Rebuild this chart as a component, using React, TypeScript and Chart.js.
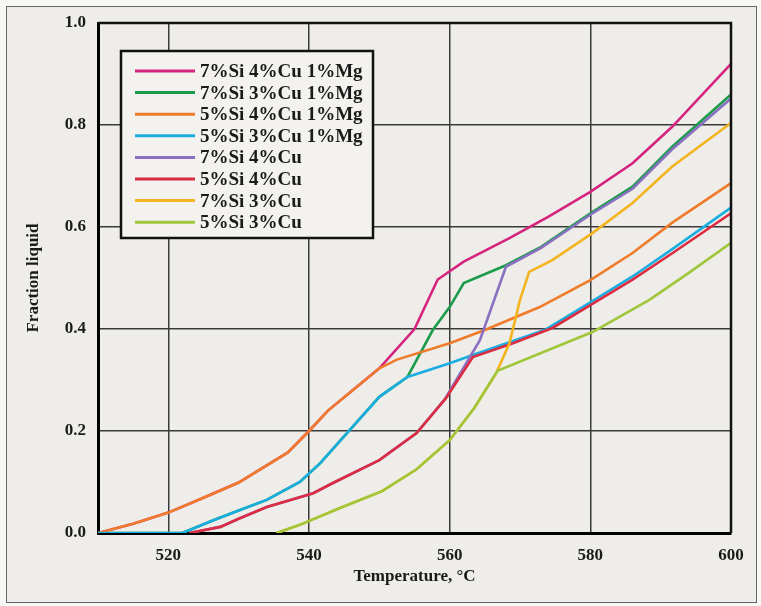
import React, { useEffect, useRef } from 'react';
import { Chart, registerables } from 'chart.js';

Chart.register(...registerables);

// ---- Data ----
const seriesLabels = [
  '7%Si 4%Cu 1%Mg',
  '7%Si 3%Cu 1%Mg',
  '5%Si 4%Cu 1%Mg',
  '5%Si 3%Cu 1%Mg',
  '7%Si 4%Cu',
  '5%Si 4%Cu',
  '7%Si 3%Cu',
  '5%Si 3%Cu',
];
const seriesColors = ['#d5247f', '#1c9c4a', '#f07b2a', '#1aaee0', '#8a70c0', '#dc2c42', '#f4b41f', '#a0c73a'];

const xTickValues = [520, 540, 560, 580, 600];
const yTickValues = [0, 0.2, 0.4, 0.6, 0.8, 1.0];

const t74Mg = [510, 515, 520, 525, 530, 537, 540, 542.7, 550, 555, 558.3, 562, 568.5, 574, 580, 586, 591.6, 600];
const f74Mg = [0, 0.018, 0.04, 0.069, 0.099, 0.158, 0.2, 0.24, 0.323, 0.4, 0.497, 0.532, 0.578, 0.62, 0.669, 0.725, 0.796, 0.92];

const t73Mg = [510, 522, 526.4, 530, 534, 538.7, 541.6, 545.4, 550, 554, 557.6, 560, 562, 568, 573, 580, 586, 591.6, 600];
const f73Mg = [0, 0, 0.025, 0.044, 0.065, 0.1, 0.137, 0.196, 0.267, 0.306, 0.398, 0.443, 0.49, 0.525, 0.561, 0.627, 0.679, 0.757, 0.86];

const t54Mg = [510, 515, 520, 525, 530, 537, 540, 542.7, 550, 552.5, 560, 565, 572.8, 580, 586, 591.6, 600];
const f54Mg = [0, 0.018, 0.04, 0.069, 0.099, 0.158, 0.2, 0.24, 0.323, 0.34, 0.372, 0.398, 0.443, 0.496, 0.549, 0.608, 0.686];

const t53Mg = [510, 522, 526.4, 530, 534, 538.7, 541.6, 545.4, 550, 554, 560, 563.3, 573.5, 580, 586, 591.6, 600];
const f53Mg = [0, 0, 0.025, 0.044, 0.065, 0.1, 0.137, 0.196, 0.267, 0.306, 0.333, 0.349, 0.398, 0.452, 0.503, 0.556, 0.638];

const t74 = [523, 527.4, 530, 534, 540.6, 543.4, 550, 555.3, 559.3, 560.5, 564.3, 568, 573, 580, 586, 591.6, 600];
const f74 = [0, 0.012, 0.028, 0.051, 0.078, 0.098, 0.143, 0.196, 0.262, 0.29, 0.378, 0.522, 0.559, 0.624, 0.675, 0.752, 0.852];

const t54 = [523, 527.4, 530, 534, 540.6, 543.4, 550, 555.3, 559.5, 563.3, 569, 574.6, 580, 586, 591.6, 600];
const f54 = [0, 0.012, 0.028, 0.051, 0.078, 0.098, 0.143, 0.196, 0.265, 0.345, 0.372, 0.402, 0.447, 0.497, 0.548, 0.627];

const t73 = [535.4, 538.7, 544.4, 550.4, 555.3, 560, 563.5, 566.6, 568.5, 570, 571.3, 574.6, 580.3, 586, 591.6, 600];
const f73 = [0, 0.016, 0.049, 0.082, 0.125, 0.182, 0.245, 0.313, 0.372, 0.457, 0.512, 0.535, 0.588, 0.647, 0.718, 0.804];

const t53 = [535.4, 538.7, 544.4, 550.4, 555.3, 560, 563.5, 566.8, 580.3, 588.4, 594, 600];
const f53 = [0, 0.016, 0.049, 0.082, 0.125, 0.182, 0.245, 0.318, 0.394, 0.457, 0.51, 0.569];

const seriesTemps = [t74Mg, t73Mg, t54Mg, t53Mg, t74, t54, t73, t53];
const seriesFractions = [f74Mg, f73Mg, f54Mg, f53Mg, f74, f54, f73, f53];

const FONT = '"Liberation Serif", "Times New Roman", serif';

const framePlugin = {
  id: 'frameAndLegend',
  afterDatasetsDraw(chart: any) {
    const { ctx, chartArea } = chart;
    ctx.save();
    // top and right frame
    ctx.strokeStyle = '#111';
    ctx.lineWidth = 2.5;
    ctx.beginPath();
    ctx.moveTo(chartArea.left, chartArea.top);
    ctx.lineTo(chartArea.right, chartArea.top);
    ctx.lineTo(chartArea.right, chartArea.bottom);
    ctx.stroke();

    // boxed legend
    const x0 = chartArea.left + 23;
    const y0 = chartArea.top + 28;
    const w = 252;
    const h = 187;
    ctx.fillStyle = '#f3f2ef';
    ctx.fillRect(x0, y0, w, h);
    ctx.lineWidth = 2.5;
    ctx.strokeStyle = '#111';
    ctx.strokeRect(x0, y0, w, h);
    ctx.font = 'bold 19px ' + FONT;
    ctx.textBaseline = 'middle';
    ctx.textAlign = 'left';
    chart.data.datasets.forEach((ds: any, i: number) => {
      const y = y0 + 20 + i * 21.6;
      ctx.strokeStyle = ds.borderColor;
      ctx.lineWidth = 3;
      ctx.beginPath();
      ctx.moveTo(x0 + 14, y);
      ctx.lineTo(x0 + 74, y);
      ctx.stroke();
      ctx.fillStyle = '#1a1a1a';
      ctx.fillText(ds.label, x0 + 79, y + 1);
    });
    ctx.restore();
  },
};

export default function App() {
  const ref = useRef<HTMLCanvasElement>(null);

  useEffect(() => {
    document.body.style.margin = '0';
    const canvas = ref.current;
    if (!canvas) return;
    const n = seriesLabels.length;
    const chart = new Chart(canvas, {
      type: 'line',
      data: {
        datasets: seriesLabels.map((label, i) => ({
          label,
          data: seriesTemps[i].map((x, j) => ({ x, y: seriesFractions[i][j] })),
          borderColor: seriesColors[i],
          backgroundColor: seriesColors[i],
          borderWidth: 2.6,
          pointRadius: 0,
          tension: 0,
          fill: false,
          order: n - 1 - i,
        })),
      },
      options: {
        responsive: false,
        devicePixelRatio: 1,
        animation: false,
        layout: { padding: { left: 0, right: 30, top: 23, bottom: 0 } },
        plugins: {
          legend: { display: false },
          tooltip: { enabled: false },
        },
        scales: {
          x: {
            type: 'linear',
            min: 510,
            max: 600,
            afterBuildTicks: (axis: any) => {
              axis.ticks = xTickValues.map((v) => ({ value: v }));
            },
            afterFit: (scale: any) => {
              scale.height = 73;
            },
            ticks: {
              padding: 12,
              color: '#1a1a1a',
              font: { family: FONT, size: 17, weight: 'bold' },
              callback: (v: any) => String(v),
            },
            grid: { color: '#3a3a3a', lineWidth: 1.5, drawTicks: false },
            border: { display: true, color: '#000', width: 3 },
            title: {
              display: true,
              text: 'Temperature, °C',
              color: '#1a1a1a',
              font: { family: FONT, size: 17, weight: 'bold' },
              padding: { top: 0, bottom: 19 },
            },
          },
          y: {
            type: 'linear',
            min: 0,
            max: 1,
            afterBuildTicks: (axis: any) => {
              axis.ticks = yTickValues.map((v) => ({ value: v }));
            },
            afterFit: (scale: any) => {
              scale.width = 98;
            },
            ticks: {
              padding: 12,
              color: '#1a1a1a',
              font: { family: FONT, size: 17, weight: 'bold' },
              callback: (v: any) => Number(v).toFixed(1),
            },
            grid: { color: '#3a3a3a', lineWidth: 1.5, drawTicks: false },
            border: { display: true, color: '#000', width: 3 },
            title: {
              display: true,
              text: 'Fraction liquid',
              color: '#1a1a1a',
              font: { family: FONT, size: 17, weight: 'bold' },
              padding: { top: 23, bottom: 0 },
            },
          },
        },
      },
      plugins: [framePlugin],
    } as any);
    return () => chart.destroy();
  }, []);

  return (
    <div style={{ position: 'relative', width: 761, height: 606, background: '#f7f7f5', overflow: 'hidden' }}>
      <div
        style={{
          position: 'absolute',
          left: 6,
          top: 6,
          width: 751,
          height: 597,
          background: '#eeede9',
          border: '1.5px solid #666',
          boxSizing: 'border-box',
        }}
      />
      <canvas ref={ref} width={761} height={606} style={{ position: 'absolute', left: 0, top: 0, width: 761, height: 606 }} />
    </div>
  );
}
